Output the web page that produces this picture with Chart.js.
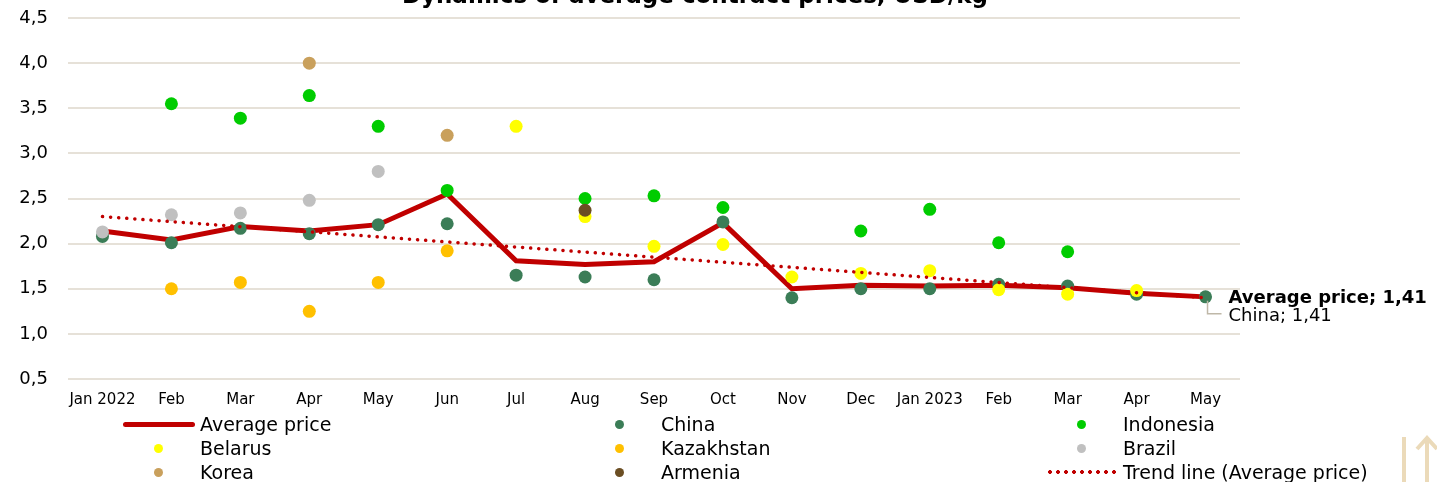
<!DOCTYPE html>
<html>
<head>
<meta charset="utf-8">
<script src="https://cdn.jsdelivr.net/npm/chart.js@4"></script>
<style>
  html, body { margin: 0; padding: 0; background: #fff; }
  body { width: 1437px; height: 482px; position: relative; overflow: hidden; font-family: "DejaVu Sans", sans-serif; }
  #wrap { position: absolute; left: 0; top: 0; width: 1437px; height: 421px; }
  #legend { position: absolute; left: 0; top: 412px; width: 1437px; height: 70px; }
  .item { position: absolute; height: 24px; font-size: 19px; color: #000; line-height: 24px; }
  .sym { position: absolute; left: 0; top: 0; width: 80px; height: 24px; }
  .txt { position: absolute; left: 81px; top: 0; white-space: nowrap; }
  #icono { position: absolute; left: 1396px; top: 432px; }
</style>
</head>
<body>
<div id="wrap"><canvas id="grafico"></canvas></div>
<div id="legend"></div>
<svg id="icono" width="41" height="50" viewBox="0 0 41 50">
  <line x1="8" y1="5" x2="8" y2="50" stroke="#EBDAB9" stroke-width="4"/>
  <line x1="31" y1="7" x2="31" y2="50" stroke="#EBDAB9" stroke-width="4"/>
  <polyline points="21,17 31,6 41,17" fill="none" stroke="#EBDAB9" stroke-width="4"/>
</svg>
<script>
// Meses
const meses = ['Jan 2022','Feb','Mar','Apr','May','Jun','Jul','Aug','Sep','Oct','Nov','Dec','Jan 2023','Feb','Mar','Apr','May']

// Valores (USD/kg)
const precioMedio = [2.14,2.04,2.19,2.14,2.21,2.55,1.81,1.77,1.80,2.23,1.50,1.54,1.53,1.54,1.51,1.45,1.41]
const china      = [2.08,2.01,2.17,2.11,2.21,2.22,1.65,1.63,1.60,2.24,1.40,1.50,1.50,1.55,1.53,1.44,1.41]
const indonesia  = [null,3.55,3.39,3.64,3.30,2.59,null,2.50,2.53,2.40,null,2.14,2.38,2.01,1.91,null,null]
const belarus    = [null,null,null,null,null,null,3.30,2.30,1.97,1.99,1.63,1.67,1.70,1.49,1.44,1.48,null]
const kazajistan = [null,1.50,1.57,1.25,1.57,1.92,null,null,null,null,null,null,null,null,null,null,null]
const brasil     = [2.13,2.32,2.34,2.48,2.80,null,null,null,null,null,null,null,null,null,null,null,null]
const corea      = [null,null,null,4.00,null,3.20,null,null,null,null,null,null,null,null,null,null,null]
const armenia    = [null,null,null,null,null,null,null,2.37,null,null,null,null,null,null,null,null,null]
const tendencia  = [2.30,null,null,null,null,null,null,null,null,null,null,null,null,null,null,null,1.40]

const yTicks = [0.5,1.0,1.5,2.0,2.5,3.0,3.5,4.0,4.5]

function puntos(label, data, color, order){
    return {
        label: label,
        data: data,
        showLine: false,
        pointRadius: 6.5,
        pointHoverRadius: 6.5,
        pointBackgroundColor: color,
        pointBorderWidth: 0,
        backgroundColor: color,
        borderColor: color,
        order: order
    }
}

const datasets = [
    {
        label: 'Average price',
        data: precioMedio,
        borderColor: '#C00000',
        backgroundColor: '#C00000',
        borderWidth: 5,
        pointRadius: 0,
        tension: 0,
        order: 10
    },
    puntos('China', china, '#3B7D57', 9),
    puntos('Indonesia', indonesia, '#00CC00', 8),
    puntos('Belarus', belarus, '#FFFF00', 7),
    puntos('Kazakhstan', kazajistan, '#FFC000', 6),
    puntos('Brazil', brasil, '#C0C0C0', 5),
    puntos('Korea', corea, '#C9A05C', 3),
    puntos('Armenia', armenia, '#6B4E23', 2),
    {
        label: 'Trend line (Average price)',
        data: tendencia,
        borderColor: '#C00000',
        borderWidth: 3.5,
        borderDash: [0.1, 8],
        borderCapStyle: 'round',
        pointRadius: 0,
        spanGaps: true,
        order: 0
    }
]

// Título (cortado arriba como en el original)
const titulo = {
    id: 'titulo',
    afterDraw(chart){
        const ctx = chart.ctx
        ctx.save()
        ctx.font = 'bold 23px "DejaVu Sans"'
        ctx.fillStyle = '#000'
        ctx.textAlign = 'center'
        ctx.textBaseline = 'alphabetic'
        ctx.fillText('Dynamics of average contract prices, USD/kg', 695, 3)
        ctx.restore()
    }
}

// Etiquetas del último punto
const etiquetas = {
    id: 'etiquetas',
    afterDatasetsDraw(chart){
        const ctx = chart.ctx
        const n = meses.length - 1
        const pAvg = chart.getDatasetMeta(0).data[n]
        const pCh = chart.getDatasetMeta(1).data[n]
        ctx.save()
        ctx.strokeStyle = '#BFB8A8'
        ctx.lineWidth = 1.5
        ctx.beginPath()
        ctx.moveTo(pCh.x + 2, pCh.y + 4)
        ctx.lineTo(pCh.x + 2, pCh.y + 17)
        ctx.lineTo(pCh.x + 16, pCh.y + 17)
        ctx.stroke()
        ctx.fillStyle = '#000'
        ctx.textAlign = 'left'
        ctx.textBaseline = 'middle'
        ctx.font = 'bold 18px "DejaVu Sans"'
        ctx.fillText('Average price; ' + precioMedio[n].toFixed(2).replace('.', ','), pAvg.x + 23, pAvg.y + 1)
        ctx.font = '18px "DejaVu Sans"'
        ctx.fillText('China; ' + china[n].toFixed(2).replace('.', ','), pCh.x + 23, pCh.y + 19)
        ctx.restore()
    }
}

let ctx = document.getElementById('grafico')
const config = {
    type: 'line',
    data: { labels: meses, datasets: datasets },
    options: {
        responsive: true,
        maintainAspectRatio: false,
        animation: false,
        layout: { padding: { top: 18, right: 197, bottom: 0, left: 0 } },
        plugins: {
            legend: { display: false },
            tooltip: { enabled: false },
            title: { display: false }
        },
        scales: {
            x: {
                offset: true,
                grid: { display: false, drawTicks: false },
                border: { display: false },
                ticks: {
                    autoSkip: false,
                    maxRotation: 0,
                    padding: 12,
                    color: '#000',
                    font: { family: 'DejaVu Sans', size: 15 }
                }
            },
            y: {
                min: 0.5,
                max: 4.5,
                afterBuildTicks(scale){ scale.ticks = yTicks.map(v => ({ value: v })) },
                afterFit(scale){ scale.width = 68 },
                grid: { color: '#E6E1D8', lineWidth: 2, drawTicks: true, tickLength: 17, tickColor: 'rgba(0,0,0,0)' },
                border: { display: false },
                ticks: {
                    padding: 3,
                    color: '#000',
                    font: { family: 'DejaVu Sans', size: 18 },
                    callback: v => v.toFixed(1).replace('.', ',')
                }
            }
        }
    },
    plugins: [titulo, etiquetas]
}

const myChart = new Chart(ctx, config)

// Leyenda en tres columnas
const leyenda = document.getElementById('legend')
const colX = [119, 580, 1042]
datasets.forEach((ds, i) => {
    const item = document.createElement('div')
    item.className = 'item'
    item.style.left = colX[i % 3] + 'px'
    item.style.top = (Math.floor(i / 3) * 24) + 'px'
    const sym = document.createElement('div')
    sym.className = 'sym'
    if (i === 0) {
        sym.innerHTML = '<div style="position:absolute;left:4px;top:10px;width:72px;height:5px;border-radius:3px;background:#C00000"></div>'
    } else if (ds.spanGaps) {
        sym.innerHTML = '<div style="position:absolute;left:4px;top:9px;width:72px;height:6px;background:radial-gradient(circle, #C00000 1.6px, transparent 2.2px) 0 0/8px 6px repeat-x"></div>'
    } else {
        sym.innerHTML = '<div style="position:absolute;left:35px;top:8px;width:9px;height:9px;border-radius:50%;background:' + ds.pointBackgroundColor + '"></div>'
    }
    const txt = document.createElement('div')
    txt.className = 'txt'
    txt.textContent = ds.label
    item.appendChild(sym)
    item.appendChild(txt)
    leyenda.appendChild(item)
})
</script>
</body>
</html>
